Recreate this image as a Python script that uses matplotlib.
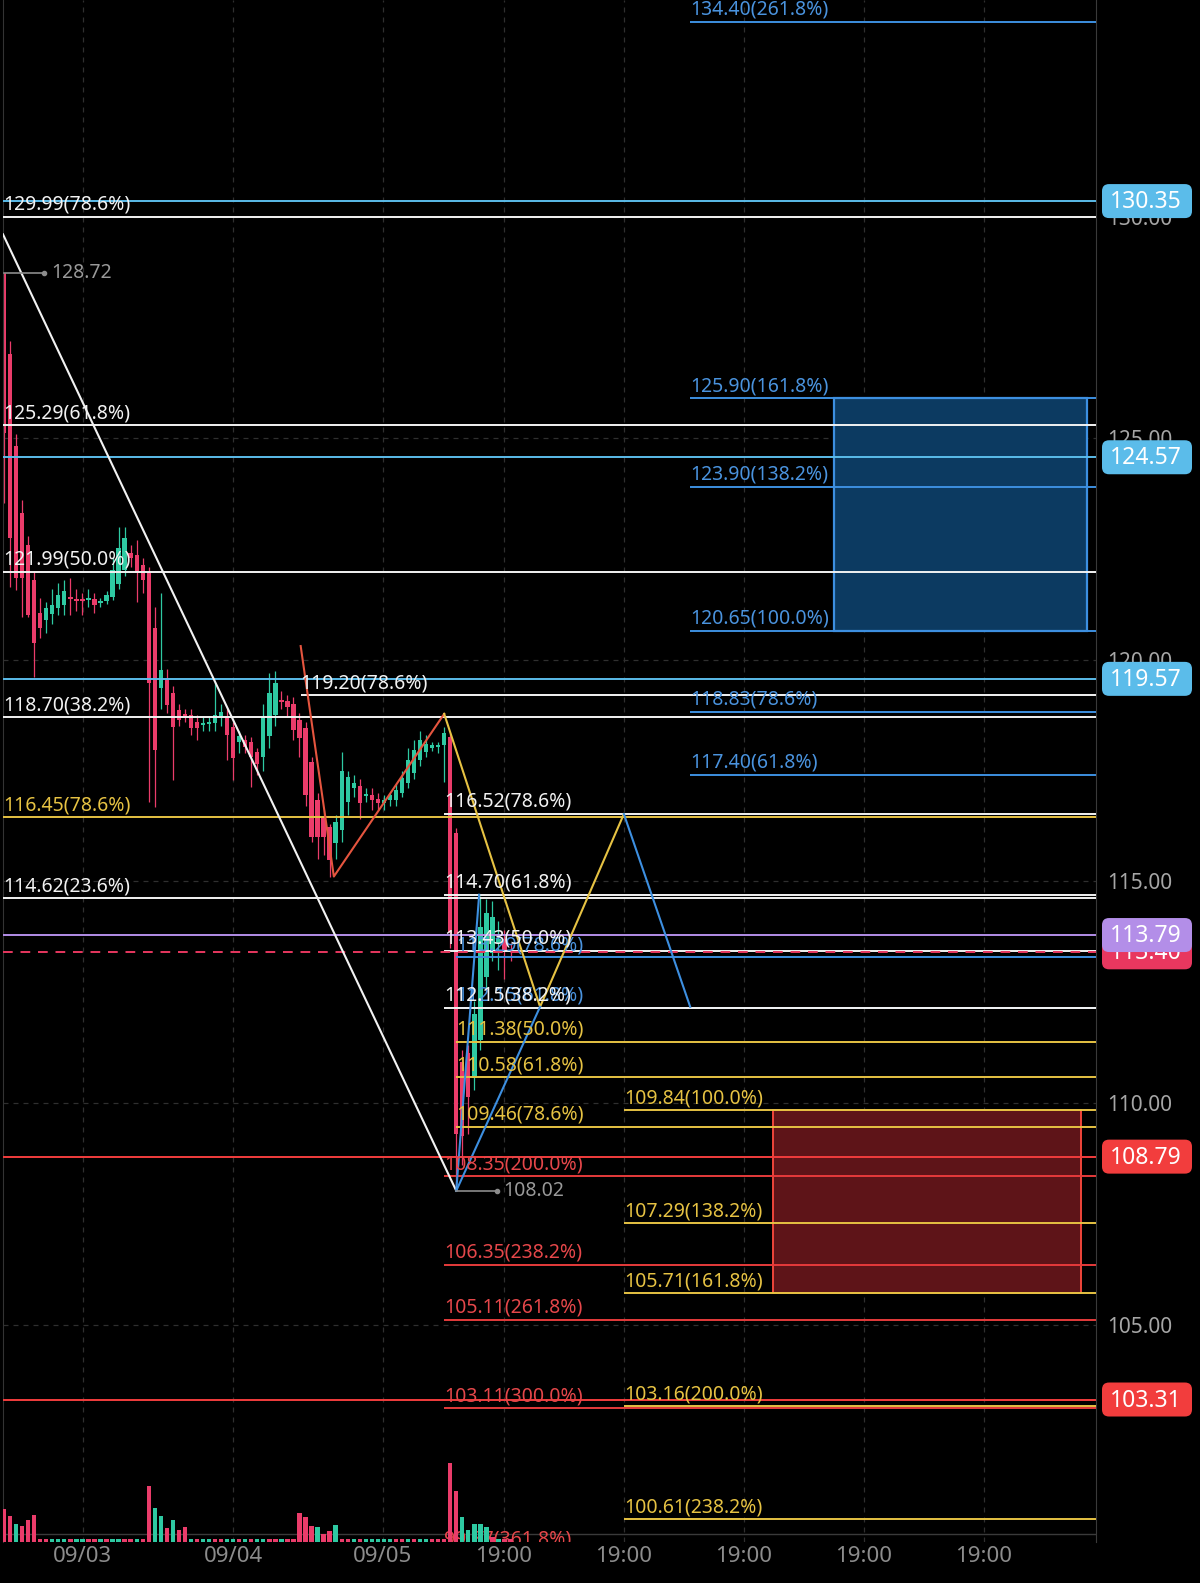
import matplotlib
matplotlib.use("Agg")
import matplotlib.pyplot as plt
from matplotlib.patches import Rectangle, FancyBboxPatch
from matplotlib.transforms import IdentityTransform

plt.rcParams['font.family'] = ['Noto Sans', 'DejaVu Sans']

# hourly candles (index 0 = first bar on screen)
opens = [128.72, 126.90, 124.82, 123.32, 122.58, 121.80, 121.06, 120.90, 121.03, 121.16,
         121.24, 121.41, 121.38, 121.36, 121.34, 121.37, 121.28, 121.33, 121.42, 121.72,
         122.03, 122.42, 122.37, 122.14, 121.99, 120.71, 119.36, 119.54, 119.24, 118.87,
         118.77, 118.75, 118.60, 118.53, 118.55, 118.57, 118.72, 118.72, 118.49, 118.15,
         118.19, 118.15, 117.93, 117.81, 118.27, 118.75, 119.09, 119.07, 119.00, 118.64,
         118.45, 117.70, 116.84, 116.46, 116.23, 115.86, 116.16, 116.80, 117.10, 117.15,
         116.93, 116.95, 116.87, 116.78, 116.84, 116.84, 116.99, 117.21, 117.44, 117.74,
         117.93, 118.02, 118.03, 118.08, 118.25, 116.09, 110.93, 111.12, 110.56, 111.42,
         112.85, 113.38, 113.60, 113.70, 113.45]
highs = [128.72, 127.20, 125.10, 123.60, 122.80, 122.00, 121.40, 121.30, 121.60, 121.73,
         121.80, 121.85, 121.60, 121.50, 121.60, 121.50, 121.40, 121.55, 122.30, 123.00,
         123.00, 122.60, 122.70, 122.30, 122.10, 121.20, 121.50, 119.80, 119.40, 119.00,
         118.90, 118.90, 118.75, 118.70, 118.70, 119.50, 119.00, 118.90, 118.60, 118.40,
         118.30, 118.25, 118.00, 119.00, 119.70, 119.75, 119.30, 119.20, 119.15, 118.80,
         118.60, 117.80, 117.00, 116.60, 116.30, 116.50, 117.93, 117.50, 117.40, 117.30,
         117.10, 117.10, 117.00, 116.95, 117.00, 117.20, 117.50, 118.00, 118.20, 118.40,
         118.30, 118.15, 118.15, 118.49, 118.35, 116.20, 111.20, 111.30, 112.30, 114.66,
         114.60, 114.55, 114.10, 113.90, 113.60]
lows = [123.54, 121.65, 121.58, 120.97, 120.97, 119.62, 120.50, 120.60, 120.80, 121.00,
        121.00, 121.00, 121.10, 121.00, 121.20, 121.05, 121.20, 121.25, 121.35, 121.60,
        121.90, 122.10, 121.30, 121.50, 116.80, 116.69, 118.90, 118.80, 117.29, 118.50,
        118.60, 118.30, 118.20, 118.40, 118.40, 118.40, 118.50, 117.74, 117.29, 117.90,
        117.90, 117.14, 117.40, 117.50, 118.00, 118.50, 118.90, 118.70, 118.20, 117.80,
        116.70, 115.90, 115.50, 115.60, 115.11, 115.50, 115.90, 116.50, 116.90, 116.40,
        116.80, 116.60, 116.60, 116.60, 116.70, 116.70, 116.90, 117.10, 117.30, 117.60,
        117.80, 117.95, 117.90, 117.25, 113.50, 108.02, 108.60, 109.30, 110.30, 111.20,
        112.60, 113.20, 113.00, 112.80, 113.20]
closes = [125.11, 122.74, 121.84, 121.84, 121.00, 120.37, 120.71, 121.16, 121.24, 121.46,
          121.56, 121.37, 121.33, 121.33, 121.38, 121.24, 121.31, 121.46, 122.02, 122.53,
          122.74, 122.29, 121.95, 121.80, 119.47, 117.96, 119.77, 118.98, 118.49, 118.64,
          118.73, 118.45, 118.45, 118.57, 118.59, 118.75, 118.83, 118.30, 117.78, 118.27,
          118.04, 117.81, 117.66, 118.72, 119.24, 119.47, 119.05, 118.94, 118.42, 118.23,
          116.95, 116.01, 116.01, 116.01, 115.48, 116.35, 117.48, 117.36, 117.23, 116.76,
          116.97, 116.84, 116.78, 116.82, 116.95, 117.06, 117.33, 117.74, 117.96, 118.19,
          118.10, 118.05, 118.07, 118.34, 113.84, 109.30, 109.25, 110.13, 112.00, 113.98,
          114.29, 114.20, 113.70, 113.45, 113.40]

# volume (millions) and bar direction as shown in the lower pane
volume = [3.33, 2.57, 1.83, 1.57, 2.23, 2.67] + [0.3] * 18 + \
         [5.57, 3.40, 2.60, 1.43, 2.23, 1.23, 1.47] + [0.3] * 18 + \
         [2.93, 2.47, 1.57, 1.50, 0.83, 1.10, 1.67] + [0.3] * 18 + \
         [7.90, 5.07, 2.50, 1.23, 1.77, 1.83, 1.50, 0.50, 0.3, 0.3, 0.3]
vol_up = [0, 0, 1, 0, 0, 0] + [0, 0, 1, 1, 1, 0, 1, 1, 0, 0, 1, 0, 1, 1, 0, 0, 1, 0] + \
         [0, 1, 1, 0, 1, 0, 0] + [1, 0, 1, 1, 0, 0, 1, 1, 0, 1, 0, 1, 1, 0, 0, 1, 0, 0] + \
         [0, 0, 0, 1, 0, 0, 1] + [0, 0, 1, 0, 1, 1, 1, 1, 1, 0, 0, 1, 0, 1, 1, 0, 0, 0] + \
         [0, 0, 1, 1, 1, 1, 1, 0, 1, 0, 0]

xtick_labels = ['09/03', '09/04', '09/05', '19:00', '19:00', '19:00', '19:00', '19:00']
xtick_pos = [13.07, 37.99, 62.77, 82.85, 102.77, 122.69, 142.6, 162.5]
ytick_vals = [130, 125, 120, 115, 110, 105]

# fibonacci levels: (price, label)
white_left = [(129.99, '129.99(78.6%)'), (125.29, '125.29(61.8%)'), (121.99, '121.99(50.0%)'),
              (118.70, '118.70(38.2%)'), (114.62, '114.62(23.6%)')]
white_mid = [(119.20, '119.20(78.6%)')]
white_right = [(116.52, '116.52(78.6%)'), (114.70, '114.70(61.8%)'),
               (113.43, '113.43(50.0%)'), (112.15, '112.15(38.2%)')]
yellow_left = [(116.45, '116.45(78.6%)')]
yellow_mid = [(111.38, '111.38(50.0%)'), (110.58, '110.58(61.8%)'), (109.46, '109.46(78.6%)')]
yellow_right = [(109.84, '109.84(100.0%)'), (107.29, '107.29(138.2%)'), (105.71, '105.71(161.8%)'),
                (103.16, '103.16(200.0%)'), (100.61, '100.61(238.2%)')]
blue_mid = [(113.29, '113.29(78.6%)'), (112.15, '112.15(61.8%)')]
blue_right = [(134.40, '134.40(261.8%)'), (125.90, '125.90(161.8%)'), (123.90, '123.90(138.2%)'),
              (120.65, '120.65(100.0%)'), (118.83, '118.83(78.6%)'), (117.40, '117.40(61.8%)')]
red_mid = [(108.35, '108.35(200.0%)'), (106.35, '106.35(238.2%)'), (105.11, '105.11(261.8%)'),
           (103.11, '103.11(300.0%)'), (99.87, '99.87(361.8%)')]

# horizontal price lines with badge on the axis (drawn in this order)
badge_lines = [(130.35, '#5bbcea'), (124.57, '#5bbcea'), (119.57, '#5bbcea'),
               (113.40, '#e8375f'), (113.79, '#b38ee8'), (108.79, '#f23d3d'), (103.31, '#f23d3d')]

# trend drawings (candle index, price)
white_trend = [(-0.17, 129.6), (75.0, 108.02)]
red_zigzag = [(49.2, 120.31), (54.7, 115.11), (73.0, 118.78)]
yellow_zigzag = [(73.0, 118.78), (88.9, 112.17), (102.8, 116.52)]
blue_up1 = [(75.0, 108.02), (78.8, 114.70)]
blue_up2 = [(75.0, 108.02), (88.9, 112.17)]
blue_down = [(102.8, 116.52), (113.8, 112.17)]

WHITE = '#f2f2f2'
YELLOW = '#e6c243'
BLUE = '#3d8fe0'
RED = '#e63b3b'
UP = '#2ec9a2'
DOWN = '#ea3c6a'

XMIN, XMAX = -0.17, 181.1
YMIN, YMAX = 100.095, 134.887

fig = plt.figure(figsize=(12, 15.83), dpi=100, facecolor='black')
ax = fig.add_axes([3 / 1200, 41 / 1583, 1093 / 1200, 1542 / 1583])
ax.set_facecolor('black')
ax.set_xlim(XMIN, XMAX)
ax.set_ylim(YMIN, YMAX)

# grid
for xp in xtick_pos:
    ax.axvline(xp, color='#2f2f2f', lw=0.9, ls=(0, (4, 4)), zorder=0)
for yv in ytick_vals:
    ax.axhline(yv, color='#2f2f2f', lw=0.9, ls=(0, (4, 4)), zorder=0)
ax.axhline(100.28, color='#3a3a3a', lw=1, zorder=0)

# target boxes
ax.add_patch(Rectangle((137.6, 120.65), 42.0, 5.25, facecolor='#0c3a61', edgecolor=BLUE, lw=1.6, zorder=1))
ax.add_patch(Rectangle((127.5, 105.71), 51.1, 4.13, facecolor='#5e1418', edgecolor='#f0453a', lw=1.4, zorder=1))

# candles
for i in range(len(opens)):
    o, h, l, c = opens[i], highs[i], lows[i], closes[i]
    col = UP if c >= o else DOWN
    ax.vlines(i, l, h, color=col, lw=0.9, zorder=2)
    ax.bar(i, max(abs(c - o), 0.05), bottom=min(o, c), width=0.72, color=col, zorder=2)


def levels(items, x0, color, text_color=None, lw=1.4):
    for p, s in items:
        ax.hlines(p, x0, XMAX, color=color, lw=lw, zorder=3)
        ax.annotate(s, xy=(x0, p), xytext=(0, 1.5), textcoords='offset points',
                    ha='left', va='bottom', fontsize=14, color=text_color or color, zorder=4,
                    annotation_clip=False, clip_on=True)


levels(white_left, XMIN, WHITE)
levels(yellow_left, XMIN, YELLOW)
levels(white_mid, 49.2, WHITE)
levels(red_mid, 73.0, RED, '#e5474a')
levels(blue_mid, 75.0, BLUE, '#4a93de')
levels(yellow_mid, 75.0, YELLOW)
levels(white_right, 73.0, WHITE)
levels(yellow_right, 102.8, YELLOW)
levels(blue_right, 113.8, BLUE, '#4a93de')

for p, col in badge_lines:
    ls = (0, (5, 4)) if p == 113.40 else '-'
    ax.axhline(p, color=col, lw=1.4, ls=ls, zorder=3)

# trend lines
for pts, col in [(white_trend, WHITE), (red_zigzag, '#e5553f'), (yellow_zigzag, YELLOW),
                 (blue_up1, BLUE), (blue_up2, BLUE), (blue_down, BLUE)]:
    xs, ys = zip(*pts)
    ax.plot(xs, ys, color=col, lw=1.5, zorder=3)

# high / low markers
for x0, p, s in [(0, 128.72, '128.72'), (75, 108.02, '108.02')]:
    ax.plot([x0, x0 + 6.7], [p, p], color='#8c8c8c', lw=1.2, zorder=4)
    ax.plot(x0 + 6.7, p, 'o', color='#8c8c8c', ms=3, zorder=4)
    ax.text(x0 + 7.8, p, s, color='#999999', fontsize=14, va='center', ha='left', zorder=4)

# axes styling
ax.yaxis.tick_right()
ax.set_yticks(ytick_vals)
ax.set_yticklabels(['%.2f' % v for v in ytick_vals])
ax.set_xticks(xtick_pos)
ax.set_xticklabels(xtick_labels)
ax.tick_params(axis='y', length=0, pad=8, labelsize=15, labelcolor='#a6a6a6')
ax.tick_params(axis='x', length=0, pad=3, labelsize=16, labelcolor='#8c8c8c')
for side in ['top', 'bottom']:
    ax.spines[side].set_visible(False)
ax.spines['left'].set_color('#333333')
ax.spines['right'].set_color('#3a3a3a')

# volume pane
axv = fig.add_axes(ax.get_position(), facecolor='none')
axv.set_xlim(XMIN, XMAX)
axv.set_ylim(0, max(volume) * 19.5)
axv.bar(range(len(volume)), volume, width=0.72,
        color=[UP if u else DOWN for u in vol_up])
axv.axis('off')

# price badges on the right axis, each one over the previous
for k, (p, col) in enumerate(badge_lines):
    yd = ax.transData.transform((0, p))[1]
    fig.add_artist(FancyBboxPatch((1102, yd - 17), 90, 34, boxstyle='round,pad=0,rounding_size=7',
                                  transform=IdentityTransform(), facecolor=col, edgecolor='none',
                                  zorder=10 + 2 * k))
    fig.text(1146, yd - 1, '%.2f' % p, transform=IdentityTransform(), ha='center', va='center',
             color='white', fontsize=16.5, fontweight='bold', zorder=11 + 2 * k)

fig.savefig('out.png', dpi=100, facecolor='black')
